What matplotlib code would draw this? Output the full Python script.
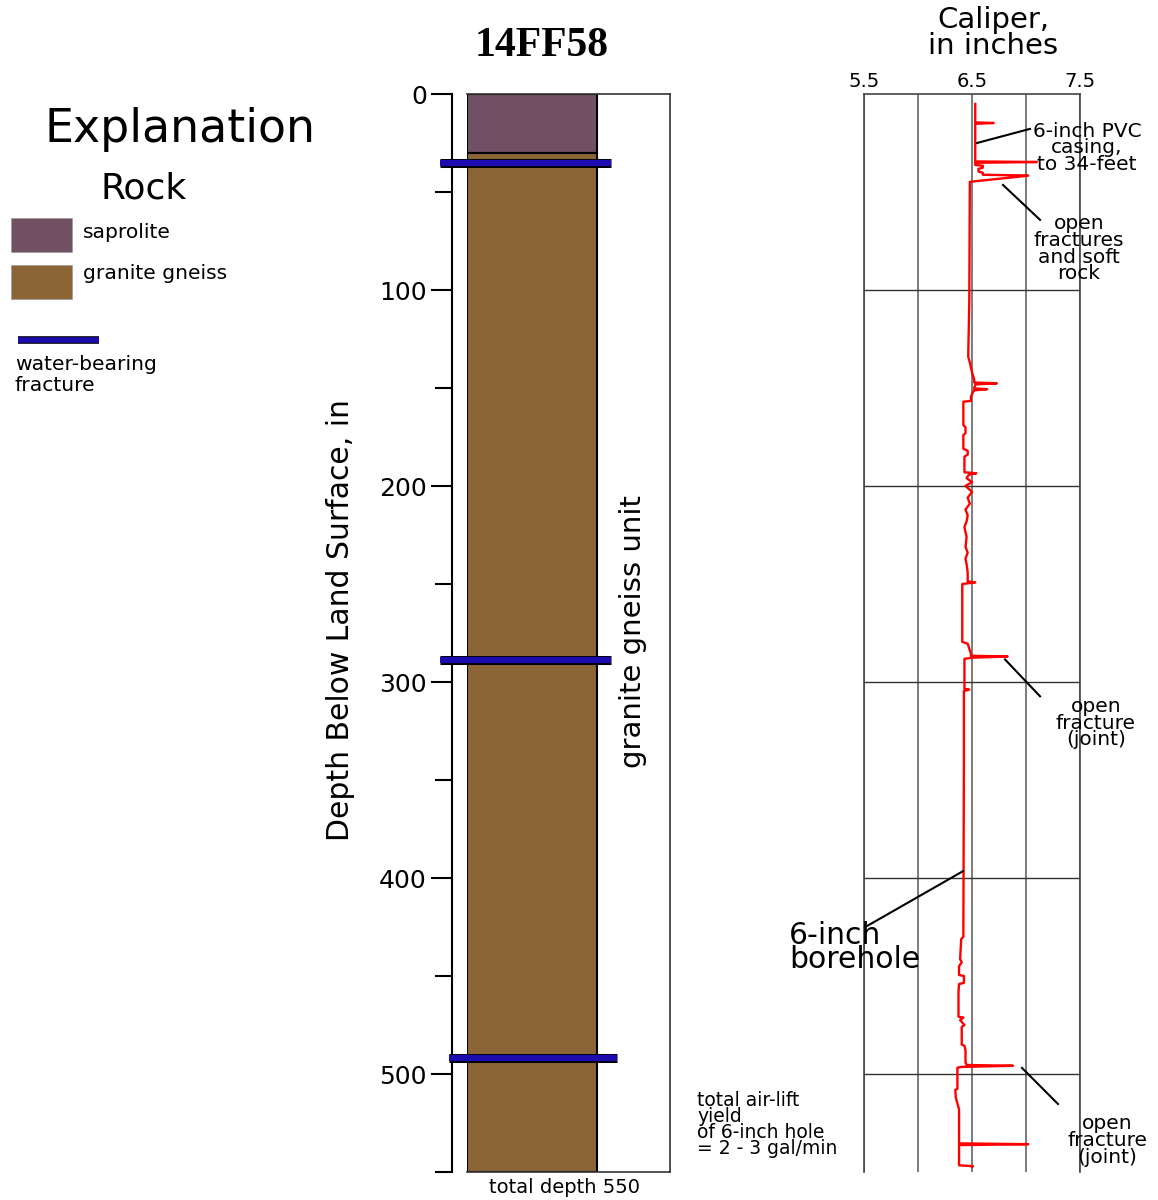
import matplotlib
matplotlib.use('Agg')
import matplotlib.pyplot as plt
import matplotlib.patheffects as pe
from matplotlib.patches import Rectangle
from matplotlib.lines import Line2D

# well log for 14FF58: lithology column and caliper log
well_name = "14FF58"
rock_names = ["saprolite", "granite gneiss"]
rock_top = [0, 30]
rock_bottom = [30, 550]
rock_colors = ["#705062", "#8b6536"]
unit_name = "granite gneiss unit"
fracture_depth = [35, 289, 492]
total_depth = 550
depth_ticks = [0, 100, 200, 300, 400, 500]
depth_minor = [50, 150, 250, 350, 450, 550]
caliper_ticks = [5.5, 6.5, 7.5]
caliper_grid = [6.0, 7.0]
yield_note = "total air-lift\nyield\nof 6-inch hole\n= 2 - 3 gal/min"

# caliper trace, depth (ft) and hole diameter (in)
caliper_depth = [5.1, 14.5, 14.8, 15.2, 34.4, 34.7, 35.1, 36.2, 36.6, 37.6,
                 38.2, 39.6, 40.2, 41.2, 41.6, 41.8, 44.8, 105, 120, 134,
                 137, 142, 145.5, 147.2, 147.6, 148.2, 150.2, 150.6, 151.2, 152,
                 154.4, 156.6, 157.0, 169, 170, 173, 174, 181, 182, 184,
                 185, 193.0, 193.5, 194.3, 196, 198, 200, 203, 206, 209,
                 212, 215, 218, 221, 226, 231, 234, 237, 240, 244,
                 248.6, 249.2, 250.0, 279.5, 280.5, 285.5, 286.6, 287.0, 287.6, 288.2,
                 303.5, 303.9, 304.6, 340, 430, 431.2, 441.4, 443, 445, 449.5,
                 450, 453.5, 454.1, 458, 470.8, 471.2, 472.5, 475, 476, 485,
                 485.6, 488, 494.0, 495.4, 495.8, 496.4, 496.8, 507.5, 508.2, 512,
                 518, 525, 535.4, 535.8, 536.3, 546.6, 547.0, 547.5]
caliper_in = [6.53, 6.53, 6.70, 6.53, 6.53, 7.10, 6.53, 6.53, 6.60, 6.60,
              6.56, 6.56, 6.60, 6.60, 7.02, 7.00, 6.48, 6.475, 6.47, 6.465,
              6.48, 6.50, 6.52, 6.52, 6.73, 6.53, 6.52, 6.64, 6.52, 6.51,
              6.49, 6.49, 6.42, 6.42, 6.44, 6.44, 6.42, 6.42, 6.46, 6.46,
              6.43, 6.43, 6.54, 6.47, 6.45, 6.50, 6.44, 6.50, 6.46, 6.48,
              6.44, 6.46, 6.45, 6.43, 6.45, 6.44, 6.46, 6.44, 6.45, 6.46,
              6.46, 6.53, 6.41, 6.41, 6.46, 6.49, 6.49, 6.83, 6.50, 6.43,
              6.43, 6.475, 6.425, 6.425, 6.42, 6.40, 6.39, 6.405, 6.38, 6.38,
              6.425, 6.425, 6.38, 6.375, 6.375, 6.42, 6.39, 6.43, 6.405, 6.405,
              6.43, 6.44, 6.44, 6.45, 6.88, 6.40, 6.365, 6.365, 6.345, 6.35,
              6.38, 6.38, 6.38, 7.02, 6.38, 6.38, 6.51, 6.50]

W, H = 1158, 1200
fx = lambda px: px / W
fy = lambda py: 1 - py / H

fig = plt.figure(figsize=(W / 100, H / 100), dpi=100)

blue = "#1c0cb0"
blue_edge = [pe.Stroke(linewidth=6.5, foreground="black"), pe.Normal()]

# ---- explanation ----
fig.text(fx(180), fy(129), "Explanation", ha="center", va="center", size=33)
fig.text(fx(144), fy(188), "Rock", ha="center", va="center", size=26)
label_y = [232, 274]
for i, name in enumerate(rock_names):
    top = 218 + i * 47
    fig.add_artist(Rectangle((fx(11), fy(top + 34)), fx(61), 34 / H,
                             transform=fig.transFigure, facecolor=rock_colors[i],
                             edgecolor="#999999", lw=0.5))
    fig.text(fx(83), fy(label_y[i]), name, ha="left", va="center", size=14.6)
fig.add_artist(Line2D([fx(18), fx(99)], [fy(340), fy(340)], transform=fig.transFigure,
                      color=blue, lw=4, solid_capstyle="butt",
                      path_effects=[pe.Stroke(linewidth=5.5, foreground="black"), pe.Normal()]))
fig.text(fx(15), fy(375), "water-bearing\nfracture", ha="left", va="center",
         size=14.6, linespacing=1.1)

# ---- lithology column ----
ax = fig.add_axes([fx(467), fy(1172), (670 - 467) / W, 1078 / H])
ax.set_xlim(0, 1)
ax.set_ylim(total_depth, 0)
for i in range(len(rock_names)):
    ax.bar(0, rock_bottom[i] - rock_top[i], bottom=rock_top[i], width=0.64,
           align="edge", color=rock_colors[i], edgecolor="black", lw=1.5, zorder=2)

extents = [(-0.133, 0.709), (-0.133, 0.709), (-0.089, 0.739)]
for d, (x0, x1) in zip(fracture_depth, extents):
    ax.plot([x0, x1], [d, d], color=blue, lw=4.5, clip_on=False, zorder=5,
            path_effects=blue_edge, solid_capstyle="butt")

ax.text(0.82, 274, unit_name, rotation=90, ha="center", va="center", size=21)
ax.text(0.48, -0.014, "total depth %d" % total_depth, transform=ax.transAxes,
        ha="center", va="center", size=14)

ax.set_xticks([])
ax.set_yticks(depth_ticks)
ax.set_yticks(depth_minor, minor=True)
ax.tick_params(axis="y", which="major", length=15, width=1.5, labelsize=18, pad=3)
ax.tick_params(axis="y", which="minor", length=12, width=1.5)
ax.spines["left"].set_position(("outward", 10.8))
ax.spines["left"].set_linewidth(1.5)
for s in ["top", "right", "bottom"]:
    ax.spines[s].set_linewidth(1.2)
    ax.spines[s].set_color("#333333")

fig.text(fx(340), fy(620), "Depth Below Land Surface, in", rotation=90,
         ha="center", va="center", size=21.5)
fig.text(fx(542), fy(46), well_name, ha="center", va="center", size=30,
         family="Liberation Serif", weight="bold")

# ---- caliper log ----
cx = fig.add_axes([fx(864), fy(1172), 216 / W, 1078 / H])
cx.set_xlim(caliper_ticks[0], caliper_ticks[-1])
cx.set_ylim(total_depth, 0)
cx.set_xticks(caliper_ticks)
cx.set_xticks(caliper_grid, minor=True)
cx.set_yticks(depth_ticks[1:])
cx.set_yticklabels([])
cx.xaxis.tick_top()
cx.tick_params(axis="both", which="both", length=0)
cx.tick_params(axis="x", labelsize=14, pad=2)
cx.grid(True, which="both", axis="x", color="#666666", lw=1.2)
cx.grid(True, which="major", axis="y", color="#333333", lw=1.0)
cx.spines["bottom"].set_visible(False)
for s in ["top", "left", "right"]:
    cx.spines[s].set_color("#444444")
    cx.spines[s].set_linewidth(1.2)

cx.plot(caliper_in, caliper_depth, color="red", lw=1.7, zorder=4, clip_on=False)

fig.text(fx(993), fy(33), "Caliper,\nin inches", ha="center", va="center",
         size=21, linespacing=0.95)

# leaders and notes along the log
leaders = [((6.546, 25.0), (7.037, 17.8)),
           ((6.787, 46.4), (7.13, 64.2)),
           ((6.806, 288.5), (7.13, 307.3)),
           ((6.417, 396.5), (5.509, 425.1)),
           ((6.963, 496.9), (7.296, 515.3))]
for (x0, y0), (x1, y1) in leaders:
    cx.plot([x0, x1], [y0, y1], color="black", lw=1.5, clip_on=False, zorder=5)

kw = dict(ha="center", va="center", size=14.5, linespacing=0.85)
cx.text(7.565, 27.5, "6-inch PVC\ncasing,\nto 34-feet", clip_on=False, **kw)
cx.text(7.49, 79, "open\nfractures\nand soft\nrock", clip_on=False, **kw)
cx.text(7.648, 321, "open\nfracture\n(joint)", clip_on=False, **kw)
cx.text(7.75, 534, "open\nfracture\n(joint)", clip_on=False, **kw)
cx.text(4.806, 435.3, "6-inch\nborehole", ha="left", va="center", size=21.5,
        linespacing=0.78, clip_on=False)
cx.text(3.954, 526, yield_note, ha="left", va="center", size=13.5,
        linespacing=0.8, clip_on=False)

fig.savefig("out.png", dpi=100)
